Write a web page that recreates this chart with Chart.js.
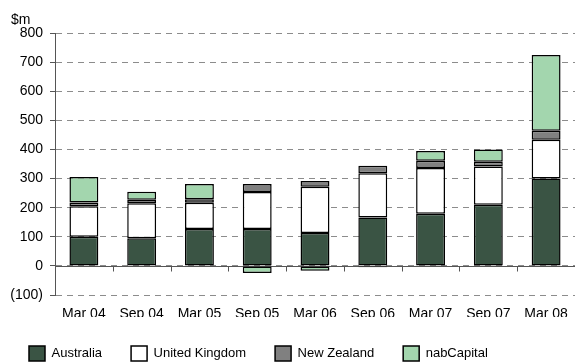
<!DOCTYPE html>
<html>
<head>
<meta charset="utf-8">
<script src="https://cdn.jsdelivr.net/npm/chart.js@4/dist/chart.umd.min.js"></script>
<style>
  html, body { margin: 0; padding: 0; background: #fff; }
  #wrap { width: 578px; height: 363px; position: relative; }
</style>
</head>
<body>
<div id="wrap"><canvas id="c"></canvas></div>
<script>
// Half-yearly contribution by region, $m
const periods = ['Mar 04', 'Sep 04', 'Mar 05', 'Sep 05', 'Mar 06', 'Sep 06', 'Mar 07', 'Sep 07', 'Mar 08'];
const australia = [100, 95, 127, 127, 113, 166, 179, 210, 300];
const unitedKingdom = [105, 120, 90, 127, 159, 152, 157, 131, 133];
const newZealand = [13, 12, 12, 27, 20, 26, 25, 17, 31];
const nabCapital = [87, 28, 52, -24, -17, -5, 34, 42, 260];
const yTicks = { min: -100, max: 800, step: 100 };
const unitLabel = '$m';

const FONT = "'Liberation Sans', Arial, sans-serif";

// Unit caption above the value axis
const unitCaption = {
  id: 'unitCaption',
  afterDraw(chart) {
    const { ctx, chartArea } = chart;
    ctx.save();
    ctx.font = '14px ' + FONT;
    ctx.fillStyle = '#000';
    ctx.textBaseline = 'alphabetic';
    ctx.textAlign = 'left';
    ctx.fillText(unitLabel, chartArea.left - 44, chartArea.top - 9);
    ctx.restore();
  }
};

// Solid zero baseline with short separator ticks between categories
const zeroBaseline = {
  id: 'zeroBaseline',
  beforeDatasetsDraw(chart) {
    const { ctx, chartArea, scales: { x, y } } = chart;
    const y0 = Math.round(y.getPixelForValue(0)) + 0.5;
    ctx.save();
    ctx.strokeStyle = '#555';
    ctx.lineWidth = 1;
    ctx.beginPath();
    ctx.moveTo(chartArea.left, y0);
    ctx.lineTo(chartArea.right, y0);
    for (let i = 0; i < periods.length - 1; i++) {
      const xb = Math.round((x.getPixelForValue(i) + x.getPixelForValue(i + 1)) / 2) + 0.5;
      ctx.moveTo(xb, y0);
      ctx.lineTo(xb, y0 + 5);
    }
    ctx.stroke();
    ctx.restore();
  }
};

const seg = (label, data, color) => ({
  label, data,
  backgroundColor: color,
  borderColor: '#000',
  borderWidth: 1.5,
  borderSkipped: false,
  barPercentage: 0.5,
  categoryPercentage: 1.0
});

new Chart(document.getElementById('c'), {
  type: 'bar',
  data: {
    labels: periods,
    datasets: [
      seg('Australia', australia, '#3a5444'),
      seg('United Kingdom', unitedKingdom, '#ffffff'),
      seg('New Zealand', newZealand, '#808080'),
      seg('nabCapital', nabCapital, '#a3d6ae')
    ]
  },
  options: {
    responsive: true,
    maintainAspectRatio: false,
    animation: false,
    devicePixelRatio: 1,
    layout: { padding: { top: 33, right: 3, bottom: 0, left: 0 } },
    plugins: {
      tooltip: { enabled: false },
      legend: {
        position: 'bottom',
        align: 'start',
        maxHeight: 46,
        labels: { boxWidth: 16, boxHeight: 15, padding: 29, color: '#000', font: { family: FONT, size: 13 } }
      }
    },
    scales: {
      x: {
        stacked: true,
        grid: { display: false },
        border: { display: false },
        ticks: { color: '#000', padding: 3, font: { family: FONT, size: 14 }, maxRotation: 0, autoSkip: false },
        afterFit(scale) { scale.height = 22; }
      },
      y: {
        stacked: true,
        min: yTicks.min,
        max: yTicks.max,
        ticks: {
          stepSize: yTicks.step, color: '#000', padding: 7, font: { family: FONT, size: 14 },
          callback: v => v < 0 ? '(' + (-v) + ')' : String(v)
        },
        grid: { color: '#8c8c8c', lineWidth: 1, tickLength: 5, tickColor: '#555', tickBorderDash: [] },
        border: { display: true, color: '#555', width: 1, dash: [6, 5] },
        afterFit(scale) { scale.width = 55; }
      }
    }
  },
  plugins: [zeroBaseline, unitCaption]
});
</script>
</body>
</html>
